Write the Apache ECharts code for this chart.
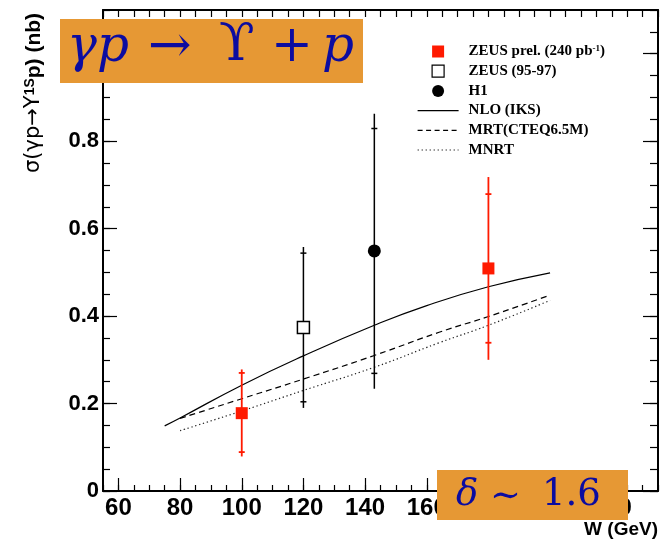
<!DOCTYPE html>
<html>
<head>
<meta charset="utf-8">
<script src="https://cdn.jsdelivr.net/npm/echarts@6/dist/echarts.min.js"></script>
<style>
  html, body { margin: 0; padding: 0; background: #fff; }
  #chart { width: 666px; height: 543px; }
</style>
</head>
<body>
<div id="chart"></div>
<script>
// x axis: W (GeV), y axis: sigma (nb)
const xTickLabels = [60, 80, 100, 120, 140, 160, 180, 200, 220];
const yTickLabels = [0, 0.2, 0.4, 0.6, 0.8, 1.0];

// data points: [W, sigma, outerLow, outerHigh, innerLow, innerHigh]
const zeusPrel = [
  [100, 0.178, 0.079, 0.278, 0.089, 0.270],
  [180, 0.509, 0.300, 0.718, 0.339, 0.679]
];
const zeus9597 = [
  [120, 0.374, 0.190, 0.558, 0.204, 0.544]
];
const h1 = [
  [143, 0.549, 0.234, 0.863, 0.269, 0.829]
];

// theory curves: [W, sigma]
const nloIks = [[75, 0.149], [80, 0.167], [100, 0.242], [120, 0.309], [143, 0.379], [160, 0.424], [180, 0.467], [200, 0.499]];
const mrt = [[80, 0.166], [100, 0.211], [120, 0.256], [143, 0.310], [164, 0.363], [180, 0.399], [200, 0.448]];
const mnrt = [[80, 0.138], [100, 0.183], [120, 0.230], [143, 0.283], [164, 0.339], [180, 0.379], [200, 0.436]];

const chart = echarts.init(document.getElementById('chart'), null, { renderer: 'canvas' });

const labelFont = { fontFamily: 'Liberation Sans', fontWeight: 'bold', color: '#000' };
const boxFill = '#e69834';
const mathBlue = '#0c0ca0';

function errorBars(color, width) {
  return function (params, api) {
    const x = api.coord([api.value(0), 0])[0];
    const lo = api.coord([0, api.value(2)])[1];
    const hi = api.coord([0, api.value(3)])[1];
    const iLo = api.coord([0, api.value(4)])[1];
    const iHi = api.coord([0, api.value(5)])[1];
    const st = { stroke: color, lineWidth: width };
    return {
      type: 'group',
      children: [
        { type: 'line', shape: { x1: x, y1: lo, x2: x, y2: hi }, style: st },
        { type: 'line', shape: { x1: x - 3, y1: iLo, x2: x + 3, y2: iLo }, style: st },
        { type: 'line', shape: { x1: x - 3, y1: iHi, x2: x + 3, y2: iHi }, style: st }
      ]
    };
  };
}

const squareIcon = 'path://M0,0H10V10H0Z';

// math text pieces inside orange boxes
function mathText(text, x, y, size, italic) {
  return {
    type: 'text', x: x, y: y, zlevel: 1, z: 101,
    style: {
      text: text, fill: mathBlue, align: 'left', verticalAlign: 'middle',
      fontFamily: 'DejaVu Serif', fontStyle: italic ? 'italic' : 'normal', fontSize: size
    }
  };
}

chart.setOption({
  animation: false,
  grid: { left: 103, right: 8, top: 10, bottom: 52 },
  legend: {
    orient: 'vertical',
    left: 417,
    top: 44,
    padding: 0,
    itemWidth: 41,
    itemHeight: 12,
    itemGap: 4.7,
    selectedMode: false,
    textStyle: {
      fontFamily: 'Liberation Serif',
      fontWeight: 'bold',
      fontSize: 15,
      color: '#000',
      padding: [0, 0, 0, 5],
      rich: {
        sup: { fontFamily: 'Liberation Serif', fontWeight: 'bold', fontSize: 9, verticalAlign: 'top', padding: [0, 0, 6, 0] }
      }
    },
    formatter: function (name) {
      return name === 'ZEUS prel.' ? 'ZEUS prel. (240 pb{sup|-1})' : name;
    },
    data: [
      { name: 'ZEUS prel.', icon: squareIcon, itemStyle: { color: '#ff1a00', borderWidth: 0 } },
      { name: 'ZEUS (95-97)', icon: squareIcon, itemStyle: { color: '#fff', borderColor: '#000', borderWidth: 1.2 } },
      { name: 'H1', icon: 'circle', itemStyle: { color: '#000', borderWidth: 0 } },
      { name: 'NLO (IKS)', icon: 'line', itemStyle: { color: '#000', borderColor: '#000', borderWidth: 1.2, borderType: 'solid' } },
      { name: 'MRT(CTEQ6.5M)', icon: 'line', itemStyle: { color: '#000', borderColor: '#000', borderWidth: 1.2, borderType: [5, 3.5] } },
      { name: 'MNRT', icon: 'line', itemStyle: { color: '#222', borderColor: '#222', borderWidth: 1.2, borderType: [1.3, 2.7] } }
    ]
  },
  xAxis: [
    {
      type: 'value', position: 'bottom', min: 55, max: 235, interval: 5,
      axisLine: { show: true, lineStyle: { color: '#000', width: 2 } },
      axisTick: { inside: true, length: 6, lineStyle: { color: '#000', width: 1.2 } },
      axisLabel: { show: false }, splitLine: { show: false }
    },
    {
      type: 'value', position: 'bottom', min: 55, max: 235,
      axisLine: { show: false },
      axisTick: { inside: true, length: 13, customValues: xTickLabels, lineStyle: { color: '#000', width: 1.2 } },
      axisLabel: Object.assign({ customValues: xTickLabels, fontSize: 24, margin: 5 }, labelFont),
      splitLine: { show: false }
    },
    {
      type: 'value', position: 'top', min: 55, max: 235, interval: 5,
      axisLine: { show: true, onZero: false, lineStyle: { color: '#000', width: 2 } },
      axisTick: { inside: true, length: 7, lineStyle: { color: '#000', width: 1.2 } },
      axisLabel: { show: false }, splitLine: { show: false }
    }
  ],
  yAxis: [
    {
      type: 'value', position: 'left', min: 0, max: 1.1, interval: 0.05,
      axisLine: { show: true, lineStyle: { color: '#000', width: 2 } },
      axisTick: { show: true, inside: true, length: 7, lineStyle: { color: '#000', width: 1.2 } },
      axisLabel: { show: false }, splitLine: { show: false }
    },
    {
      type: 'value', position: 'left', min: 0, max: 1.1,
      axisLine: { show: false },
      axisTick: { show: true, inside: true, length: 14, customValues: yTickLabels, lineStyle: { color: '#000', width: 1.2 } },
      axisLabel: Object.assign({
        customValues: yTickLabels, fontSize: 22, margin: 4,
        formatter: v => (v === 0 ? '0' : (v === 1 ? '1' : v.toFixed(1)))
      }, labelFont),
      splitLine: { show: false }
    },
    {
      type: 'value', position: 'right', min: 0, max: 1.1, interval: 0.05,
      axisLine: { show: true, onZero: false, lineStyle: { color: '#000', width: 2 } },
      axisTick: { show: true, inside: true, length: 8, lineStyle: { color: '#000', width: 1.2 } },
      axisLabel: { show: false }, splitLine: { show: false }
    },
    {
      type: 'value', position: 'right', min: 0, max: 1.1,
      axisLine: { show: false },
      axisTick: { show: true, inside: true, length: 15, customValues: yTickLabels, lineStyle: { color: '#000', width: 1.2 } },
      axisLabel: { show: false }, splitLine: { show: false }
    }
  ],
  series: [
    {
      name: 'NLO (IKS)', type: 'line', data: nloIks, smooth: true, symbol: 'none',
      lineStyle: { color: '#000', width: 1.2, type: 'solid' }, itemStyle: { color: '#000' }, z: 2
    },
    {
      name: 'MRT(CTEQ6.5M)', type: 'line', data: mrt, smooth: true, symbol: 'none',
      lineStyle: { color: '#000', width: 1.2, type: [6, 4] }, itemStyle: { color: '#000' }, z: 2
    },
    {
      name: 'MNRT', type: 'line', data: mnrt, smooth: true, symbol: 'none',
      lineStyle: { color: '#222', width: 1.2, type: [1.3, 2.7] }, itemStyle: { color: '#222' }, z: 2
    },
    { type: 'custom', renderItem: errorBars('#ff1a00', 1.8), data: zeusPrel, z: 3 },
    { type: 'custom', renderItem: errorBars('#000', 1.5), data: zeus9597, z: 3 },
    { type: 'custom', renderItem: errorBars('#000', 1.5), data: h1, z: 3 },
    {
      name: 'ZEUS prel.', type: 'scatter', data: zeusPrel.map(d => [d[0], d[1]]),
      symbol: 'rect', symbolSize: 12, itemStyle: { color: '#ff1a00', opacity: 1 }, z: 4
    },
    {
      name: 'ZEUS (95-97)', type: 'scatter', data: zeus9597.map(d => [d[0], d[1]]),
      symbol: 'rect', symbolSize: 12, itemStyle: { color: '#fff', borderColor: '#000', borderWidth: 1.5, opacity: 1 }, z: 4
    },
    {
      name: 'H1', type: 'scatter', data: h1.map(d => [d[0], d[1]]),
      symbol: 'circle', symbolSize: 13, itemStyle: { color: '#000', opacity: 1 }, z: 4
    }
  ],
  graphic: [
    {
      type: 'text', x: 34, y: 93, rotation: Math.PI / 2,
      style: {
        text: '{g|σ(γp→Υ}{sup|1S}{b|p) (nb)}',
        align: 'center', verticalAlign: 'middle',
        rich: {
          g: { fontFamily: 'DejaVu Sans', fontSize: 21, fill: '#000' },
          sup: { fontFamily: 'Liberation Sans', fontWeight: 'bold', fontSize: 14, fill: '#000', verticalAlign: 'top', padding: [0, 0, 8, 0] },
          b: { fontFamily: 'Liberation Sans', fontWeight: 'bold', fontSize: 21, fill: '#000' }
        }
      }
    },
    {
      type: 'text', right: 8, top: 520,
      style: Object.assign({ text: 'W (GeV)', fontSize: 19 }, labelFont, { fill: '#000' })
    },
    { type: 'rect', zlevel: 1, z: 100, shape: { x: 60, y: 19, width: 303, height: 64 }, style: { fill: boxFill } },
    mathText('γp', 67, 48, 50, true),
    mathText('→', 148, 48, 52, false),
    mathText('ϒ', 219, 46, 52, false),
    mathText('+', 271, 48, 50, false),
    mathText('p', 322, 48, 50, true),
    { type: 'rect', zlevel: 1, z: 100, shape: { x: 437, y: 470, width: 191, height: 50 }, style: { fill: boxFill } },
    mathText('δ', 456, 495, 37, true),
    mathText('∼', 490, 497, 37, false),
    mathText('1.6', 542, 495, 37, false)
  ]
});
</script>
</body>
</html>
